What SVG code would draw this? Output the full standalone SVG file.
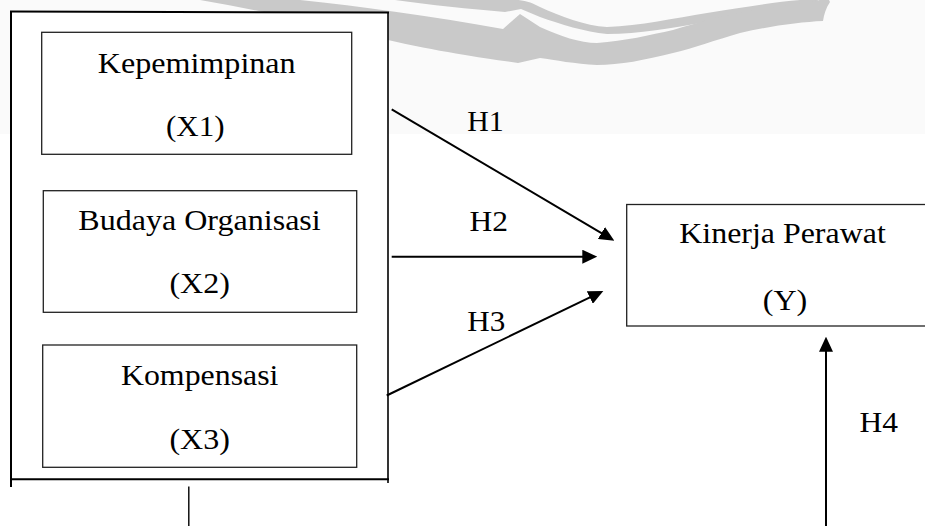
<svg xmlns="http://www.w3.org/2000/svg" width="925" height="526" viewBox="0 0 925 526">
<style>
text{font-size:29px;fill:#000;text-anchor:middle}
.box{fill:#fff;stroke:#222;stroke-width:1.3}
.frame{stroke:#000;stroke-width:2;fill:none}
.conn{stroke:#000;stroke-width:2;fill:none}
.thin{stroke:#000;stroke-width:1.4;fill:none}
.wm{fill:#c9c9c9}
</style>
<defs>
<marker id="ah" viewBox="0 0 15 14" refX="3" refY="7" markerWidth="15" markerHeight="14" markerUnits="userSpaceOnUse" orient="auto"><path d="M0,0 L15,7 L0,14 Z" fill="#000"/></marker>
</defs>
<rect width="925" height="526" fill="#fff"/>
<rect x="0" y="0" width="925" height="134" fill="#fafafa"/>
<g id="watermark">
<path class="wm" d="M395,0 L515,0 C525,0 530,2 540,7 C560,16 585,26 607,27 C640,26 675,18 707,13 C745,7 775,2 800,0 L818,0 L817,3 C780,8 740,18 707,22 C670,28 640,34 607,34 C585,32 560,24 540,17 L521,9 L505,12 C470,9 430,5 395,0 Z"/>
<path class="wm" d="M300,0 C360,6 430,16 503,29 L520,14 L540,27 C560,36 580,43 597,43 C625,41 650,35 673,30 C700,22 720,16 740,13 C770,8 790,5 807,3 L828,-2 L830,2 C826,8 824,14 823,21 C800,22 770,26 740,33 C715,40 695,48 673,53 C645,60 620,65 597,65 C575,64 555,60 540,58 L518,63 C490,59 440,52 388,40 C320,24 260,10 200,0 Z"/>
</g>
<g id="outer-frame">
<rect x="11" y="12" width="377" height="467" fill="#fff"/>
<line class="frame" x1="10" y1="11.5" x2="389" y2="12.5"/>
<line class="frame" x1="11" y1="11" x2="11" y2="487"/>
<line class="frame" x1="388" y1="12" x2="388" y2="483" style="stroke-width:1.6"/>
<line class="frame" x1="10" y1="479.3" x2="389" y2="479.3"/>
</g>
<g id="node-x1" font-family="Liberation Serif, Times New Roman, serif">
<rect class="box" x="41.7" y="32.3" width="310" height="122"/>
<text x="196.7" y="72.7" textLength="198" lengthAdjust="spacingAndGlyphs">Kepemimpinan</text>
<text x="195.3" y="135.5" textLength="58.5" lengthAdjust="spacingAndGlyphs">(X1)</text>
</g>
<g id="node-x2" font-family="Liberation Serif, Times New Roman, serif">
<rect class="box" x="43.3" y="190.7" width="313.4" height="121.6"/>
<text x="199.5" y="230" textLength="242.5" lengthAdjust="spacingAndGlyphs">Budaya Organisasi</text>
<text x="199.7" y="293.3" textLength="60.5" lengthAdjust="spacingAndGlyphs">(X2)</text>
</g>
<g id="node-x3" font-family="Liberation Serif, Times New Roman, serif">
<rect class="box" x="42.7" y="345" width="314" height="122.3"/>
<text x="199.7" y="385" textLength="157.5" lengthAdjust="spacingAndGlyphs">Kompensasi</text>
<text x="199.7" y="449.3" textLength="60.5" lengthAdjust="spacingAndGlyphs">(X3)</text>
</g>
<g id="node-y" font-family="Liberation Serif, Times New Roman, serif">
<rect class="box" x="626.7" y="204.5" width="310" height="121.5"/>
<text x="782.5" y="243.3" textLength="206.5" lengthAdjust="spacingAndGlyphs">Kinerja Perawat</text>
<text x="785" y="310" textLength="44.5" lengthAdjust="spacingAndGlyphs">(Y)</text>
</g>
<g id="connectors" font-family="Liberation Serif, Times New Roman, serif">
<line class="conn" x1="391.7" y1="109.3" x2="604" y2="234.6" marker-end="url(#ah)"/>
<line class="conn" x1="391.7" y1="256.7" x2="585.3" y2="256.7" marker-end="url(#ah)"/>
<line class="conn" x1="386.7" y1="395.5" x2="592.5" y2="296.2" marker-end="url(#ah)"/>
<line class="conn" x1="826" y1="527" x2="826" y2="348.7" marker-end="url(#ah)"/>
<line class="thin" x1="188.8" y1="486.5" x2="188.8" y2="527"/>
<text x="485.5" y="130.7" textLength="36.5" lengthAdjust="spacingAndGlyphs">H1</text>
<text x="488.8" y="230.7" textLength="38.5" lengthAdjust="spacingAndGlyphs">H2</text>
<text x="486.3" y="330.7" textLength="38" lengthAdjust="spacingAndGlyphs">H3</text>
<text x="878.8" y="432.3" textLength="38.5" lengthAdjust="spacingAndGlyphs">H4</text>
</g>
</svg>
